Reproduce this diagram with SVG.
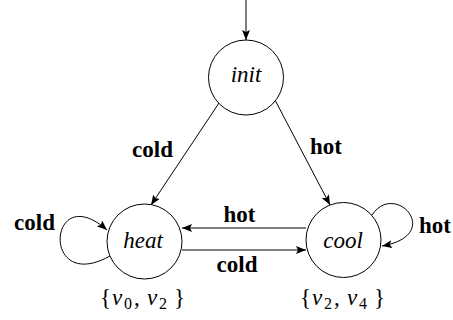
<svg xmlns="http://www.w3.org/2000/svg" width="453" height="320" viewBox="0 0 453 320">
<defs>
<marker id="ah" viewBox="0 0 10 8" refX="10" refY="4" markerWidth="10" markerHeight="8" markerUnits="userSpaceOnUse" orient="auto">
<path d="M0,0 L10,4 L0,8 L2,4 Z" fill="#000"/>
</marker>
</defs>
<g id="connectors" fill="none" stroke="#000" stroke-width="1" marker-end="url(#ah)">
<path d="M246,0 L246,40"/>
<path d="M219,103 L151,205"/>
<path d="M275,100 L330,205"/>
<path d="M306,228 L182,228"/>
<path d="M182,250 L306,250"/>
<path d="M110,256 C40,295 48,178 107,230"/>
<path d="M372,215 C395,180 445,235 382,246"/>
</g>
<g id="edge-labels" fill="#000" text-anchor="middle">
<text x="152.5" y="157" font-family="Liberation Serif" style="font-family:'Liberation Serif',serif;font-weight:bold;font-size:23px">cold</text>
<text x="326" y="154" font-family="Liberation Serif" style="font-family:'Liberation Serif',serif;font-weight:bold;font-size:23px">hot</text>
<text x="239.5" y="222" font-family="Liberation Serif" style="font-family:'Liberation Serif',serif;font-weight:bold;font-size:23px">hot</text>
<text x="237" y="272" font-family="Liberation Serif" style="font-family:'Liberation Serif',serif;font-weight:bold;font-size:23px">cold</text>
<text x="34.5" y="230" font-family="Liberation Serif" style="font-family:'Liberation Serif',serif;font-weight:bold;font-size:23px">cold</text>
<text x="435" y="233" font-family="Liberation Serif" style="font-family:'Liberation Serif',serif;font-weight:bold;font-size:23px">hot</text>
</g>
<g id="init">
<circle cx="246" cy="77.5" r="37.5" fill="#fff" stroke="#000"/>
<text x="246" y="82" text-anchor="middle" font-family="Liberation Serif" style="font-family:'Liberation Serif',serif;font-style:italic;font-size:23px">init</text>
</g>
<g id="heat">
<circle cx="144.5" cy="241.5" r="37.5" fill="#fff" stroke="#000"/>
<text x="143" y="248" text-anchor="middle" font-family="Liberation Serif" style="font-family:'Liberation Serif',serif;font-style:italic;font-size:23px">heat</text>
<text x="100" y="305" font-family="Liberation Serif" style="font-family:'Liberation Serif',serif;font-size:23px">{<tspan font-style="italic" x="112">v</tspan><tspan font-size="16" x="124" y="309">0</tspan><tspan x="134" y="305">,</tspan><tspan font-style="italic" x="147">v</tspan><tspan font-size="16" x="159" y="309">2</tspan><tspan x="174" y="305">}</tspan></text>
</g>
<g id="cool">
<circle cx="343.5" cy="240" r="37.5" fill="#fff" stroke="#000"/>
<text x="343" y="248" text-anchor="middle" font-family="Liberation Serif" style="font-family:'Liberation Serif',serif;font-style:italic;font-size:23px">cool</text>
<text x="300" y="305" font-family="Liberation Serif" style="font-family:'Liberation Serif',serif;font-size:23px">{<tspan font-style="italic" x="312">v</tspan><tspan font-size="16" x="324" y="309">2</tspan><tspan x="334" y="305">,</tspan><tspan font-style="italic" x="347">v</tspan><tspan font-size="16" x="359" y="309">4</tspan><tspan x="374" y="305">}</tspan></text>
</g>
</svg>
